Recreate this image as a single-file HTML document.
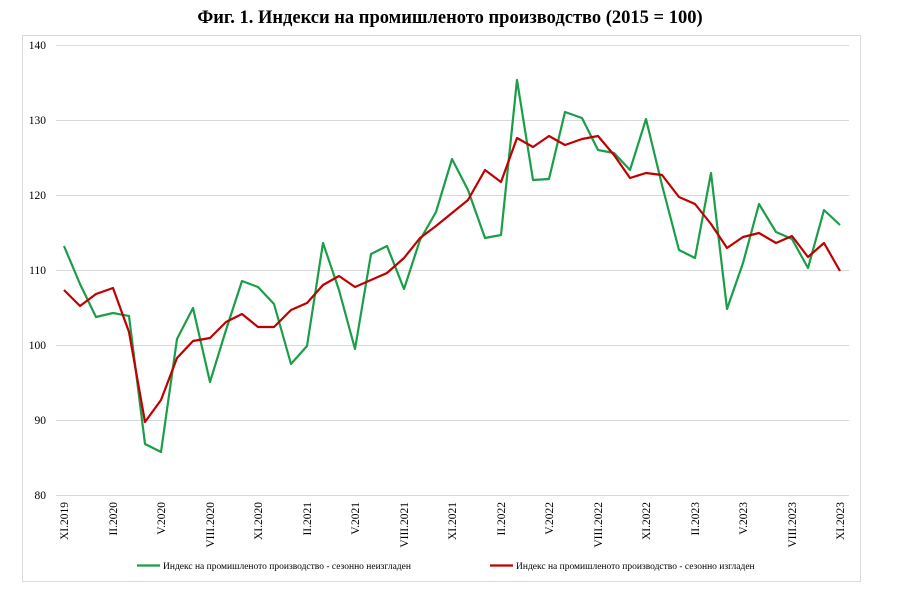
<!DOCTYPE html>
<html><head><meta charset="utf-8"><style>
body{margin:0;background:#fff;width:900px;height:592px;overflow:hidden;font-family:"Liberation Serif",serif}
</style></head><body>
<svg width="900" height="592" xmlns="http://www.w3.org/2000/svg" font-family="Liberation Serif, serif">
<text x="450" y="23" text-anchor="middle" font-size="18.5" font-weight="bold">Фиг. 1. Индекси на промишленото производство (2015 = 100)</text>
<rect x="22.5" y="35.5" width="838" height="546" fill="none" stroke="#d9d9d9"/>
<g stroke="#d9d9d9" stroke-width="1">
<line x1="56" x2="849" y1="45.5" y2="45.5"/><line x1="56" x2="849" y1="120.5" y2="120.5"/>
<line x1="56" x2="849" y1="195.5" y2="195.5"/><line x1="56" x2="849" y1="270.5" y2="270.5"/>
<line x1="56" x2="849" y1="345.5" y2="345.5"/><line x1="56" x2="849" y1="420.5" y2="420.5"/>
<line x1="56" x2="849" y1="495.5" y2="495.5"/>
</g>
<g font-size="11.5" text-anchor="end" fill="#000">
<text x="46" y="49">140</text><text x="46" y="124">130</text><text x="46" y="199">120</text>
<text x="46" y="274">110</text><text x="46" y="349">100</text><text x="46" y="424">90</text><text x="46" y="499">80</text>
</g>
<g font-size="11.5" text-anchor="end">
<text transform="translate(68,502) rotate(-90)">XI.2019</text>
<text transform="translate(117,502) rotate(-90)">II.2020</text>
<text transform="translate(165,502) rotate(-90)">V.2020</text>
<text transform="translate(214,502) rotate(-90)">VIII.2020</text>
<text transform="translate(262,502) rotate(-90)">XI.2020</text>
<text transform="translate(311,502) rotate(-90)">II.2021</text>
<text transform="translate(359,502) rotate(-90)">V.2021</text>
<text transform="translate(408,502) rotate(-90)">VIII.2021</text>
<text transform="translate(456,502) rotate(-90)">XI.2021</text>
<text transform="translate(505,502) rotate(-90)">II.2022</text>
<text transform="translate(553,502) rotate(-90)">V.2022</text>
<text transform="translate(602,502) rotate(-90)">VIII.2022</text>
<text transform="translate(650,502) rotate(-90)">XI.2022</text>
<text transform="translate(699,502) rotate(-90)">II.2023</text>
<text transform="translate(747,502) rotate(-90)">V.2023</text>
<text transform="translate(796,502) rotate(-90)">VIII.2023</text>
<text transform="translate(844,502) rotate(-90)">XI.2023</text>
</g>
<polyline fill="none" stroke="#1a9e48" stroke-width="2.2" stroke-linejoin="round" points="64,246 80,284 96,317 113,313 129,316 145,444 161,452 177,339 193,308 210,382 226,330 242,281 258,287 274,304 291,364 307,346 323,243 339,290 355,349 371,254 387,246 404,289 420,240 436,212 452,159 468,190 485,238 501,235 517,80 533,180 549,179 565,112 582,118 598,150 614,153 630,170 646,119 662,185 679,250 695,258 711,173 727,309 743,263 759,204 776,232 792,239 808,268 824,210 840,225"/>
<polyline fill="none" stroke="#c00000" stroke-width="2.2" stroke-linejoin="round" points="64,290 80,306 96,294 113,288 129,332 145,422 161,400 177,358 193,341 210,338 226,322 242,314 258,327 274,327 291,310 307,303 323,285 339,276 355,287 371,280 387,273 404,258 420,238 436,226 452,213 468,200 485,170 501,182 517,138 533,147 549,136 565,145 582,139 598,136 614,155 630,178 646,173 662,175 679,197 695,204 711,224 727,248 743,237 759,233 776,243 792,236 808,257 824,243 840,271"/>
<line x1="137" x2="160" y1="565.5" y2="565.5" stroke="#1a9e48" stroke-width="2.2"/>
<text x="163" y="569" font-size="9.5">Индекс на промишленото производство - сезонно  неизгладен</text>
<line x1="490" x2="513" y1="565.5" y2="565.5" stroke="#c00000" stroke-width="2.2"/>
<text x="516" y="569" font-size="9.5">Индекс на промишленото производство - сезонно изгладен</text>
</svg>
</body></html>
